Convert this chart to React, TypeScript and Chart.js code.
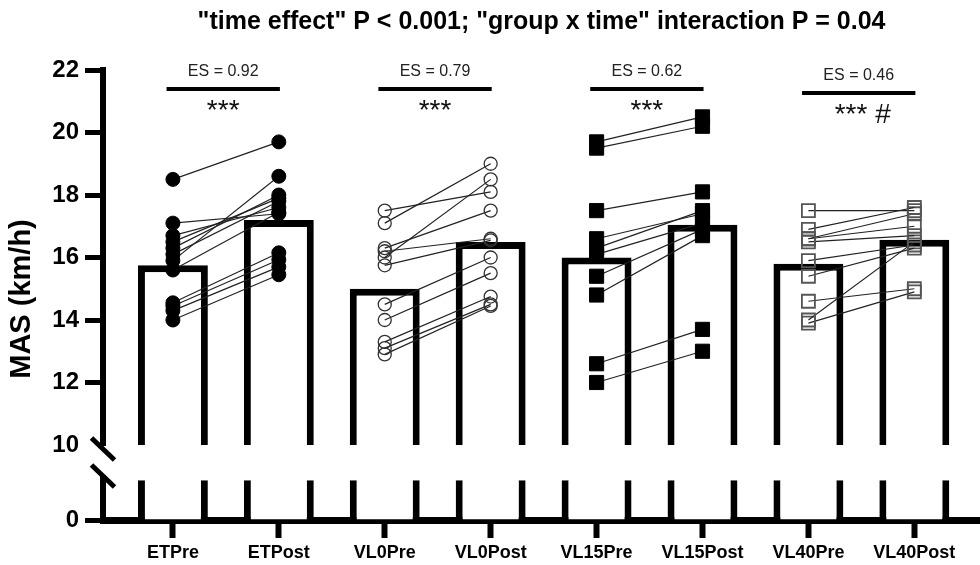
import React, { useEffect, useRef } from 'react';
import { Chart, registerables } from 'chart.js';

Chart.register(...registerables);

const TITLE = '"time effect" P < 0.001; "group x time" interaction P = 0.04';
const Y_TITLE = 'MAS (km/h)';

const categories = ['ETPre', 'ETPost', 'VL0Pre', 'VL0Post', 'VL15Pre', 'VL15Post', 'VL40Pre', 'VL40Post'];
const barValues = [15.75, 17.2, 15.0, 16.5, 16.0, 17.05, 15.8, 16.57];
const upperMin = 10;
const upperMax = 22;
const upperStep = 2;
const lowerTicks = [0];
const lowerMax = 10;
const lowerStub = 5.3;

const etPre = [18.5, 17.1, 16.7, 16.5, 16.3, 16.1, 15.9, 15.6, 14.55, 14.45, 14.3, 14.0];
const etPost = [19.7, 17.4, 17.6, 17.9, 18.0, 17.8, 18.6, 17.45, 16.15, 15.93, 15.7, 15.45];
const vl0Pre = [17.5, 17.1, 16.3, 16.0, 16.2, 15.75, 14.5, 14.0, 13.3, 13.1, 12.9];
const vl0Post = [18.1, 19.0, 17.5, 18.5, 16.6, 16.55, 16.0, 15.5, 14.75, 14.5, 14.45];
const vl15Pre = [19.7, 19.5, 17.5, 16.6, 16.3, 16.1, 15.4, 14.8, 12.6, 12.0];
const vl15Post = [20.5, 20.2, 18.1, 17.4, 17.5, 17.1, 16.9, 16.7, 13.7, 13.0];
const vl40Pre = [17.5, 16.9, 16.6, 16.5, 16.6, 15.9, 15.4, 14.6, 14.0, 13.9];
const vl40Post = [17.5, 17.6, 17.0, 16.7, 17.4, 16.4, 16.3, 15.0, 16.5, 14.9];

const esLabels = ['ES = 0.92', 'ES = 0.79', 'ES = 0.62', 'ES = 0.46'];
const sigLabels = ['***', '***', '***', '*** #'];

const FONT = '"Liberation Sans", Arial, Helvetica, sans-serif';

const groups = [
  { pre: etPre, post: etPost, style: { pointStyle: 'circle', pointRadius: 7, pointBackgroundColor: '#000', pointBorderColor: '#000', pointBorderWidth: 1 } },
  { pre: vl0Pre, post: vl0Post, style: { pointStyle: 'circle', pointRadius: 6.5, pointBackgroundColor: 'rgba(0,0,0,0)', pointBorderColor: '#333', pointBorderWidth: 1.3 } },
  { pre: vl15Pre, post: vl15Post, style: { pointStyle: 'rect', pointRadius: 10, pointBackgroundColor: '#000', pointBorderColor: '#000', pointBorderWidth: 1 } },
  { pre: vl40Pre, post: vl40Post, style: { pointStyle: 'rect', pointRadius: 9.2, pointBackgroundColor: 'rgba(0,0,0,0)', pointBorderColor: '#555', pointBorderWidth: 1.8 } },
];

const annotPlugin = {
  id: 'annot',
  afterDraw(chart: any) {
    const { ctx, chartArea, scales } = chart;
    const xS = scales.x;
    const yT = scales.y;
    const yL = scales.yLow;
    ctx.save();
    ctx.strokeStyle = '#000';
    ctx.lineCap = 'butt';
    // lower axis segment
    ctx.lineWidth = 6;
    ctx.beginPath();
    ctx.moveTo(chartArea.left, yL.getPixelForValue(0));
    ctx.lineTo(chartArea.left, yL.getPixelForValue(6));
    ctx.stroke();
    // break marks
    ctx.lineWidth = 5;
    [4, 31].forEach((dy) => {
      const cy = yT.bottom + dy;
      ctx.beginPath();
      ctx.moveTo(chartArea.left - 11.5, cy - 11);
      ctx.lineTo(chartArea.left + 11.5, cy + 11);
      ctx.stroke();
    });
    // y axis title
    ctx.save();
    ctx.translate(22, (yT.top + yL.bottom) / 2 + 4);
    ctx.rotate(-Math.PI / 2);
    ctx.font = `bold 29px ${FONT}`;
    ctx.fillStyle = '#000';
    ctx.textAlign = 'center';
    ctx.textBaseline = 'middle';
    ctx.fillText(Y_TITLE, 0, 0);
    ctx.restore();
    // ES annotations
    esLabels.forEach((lab, g) => {
      const dy = g === 3 ? 4 : 0;
      const x1 = xS.getPixelForValue(2 * g - 0.06);
      const x2 = xS.getPixelForValue(2 * g + 1.01);
      const cx = (x1 + x2) / 2;
      ctx.lineWidth = 4;
      ctx.beginPath();
      ctx.moveTo(x1, chartArea.top + 19 + dy);
      ctx.lineTo(x2, chartArea.top + 19 + dy);
      ctx.stroke();
      ctx.fillStyle = '#222';
      ctx.textAlign = 'center';
      ctx.textBaseline = 'middle';
      ctx.font = `16px ${FONT}`;
      ctx.fillText(lab, cx, chartArea.top + 2 + dy);
      ctx.fillStyle = '#111';
      ctx.font = `28px ${FONT}`;
      ctx.fillText(sigLabels[g], cx + (g === 3 ? 4 : 0), chartArea.top + 41 + dy);
    });
    ctx.restore();
  },
};

export default function App() {
  const ref = useRef<HTMLCanvasElement | null>(null);
  useEffect(() => {
    if (!ref.current) return;
    Chart.defaults.font.family = FONT;
    const datasets: any[] = [];
    groups.forEach((g, gi) => {
      g.pre.forEach((p, k) => {
        datasets.push({
          type: 'line',
          data: [{ x: 2 * gi, y: p }, { x: 2 * gi + 1, y: g.post[k] }],
          yAxisID: 'y',
          borderColor: '#222',
          borderWidth: 1.2,
          fill: false,
          order: 0,
          ...g.style,
        });
      });
    });
    datasets.push({
      type: 'bar',
      data: categories.map((_, i) => ({ x: i, y: [upperMin, barValues[i]] })),
      yAxisID: 'y',
      backgroundColor: '#fff',
      borderColor: '#000',
      borderWidth: { top: 7, left: 7, right: 7, bottom: 0 },
      borderSkipped: false,
      grouped: false,
      barPercentage: 0.66,
      categoryPercentage: 1,
      order: 5,
    });
    datasets.push({
      type: 'bar',
      data: categories.map((_, i) => ({ x: i, y: lowerStub })),
      yAxisID: 'yLow',
      backgroundColor: '#fff',
      borderColor: '#000',
      borderWidth: { top: 0, left: 7, right: 7, bottom: 0 },
      borderSkipped: false,
      grouped: false,
      barPercentage: 0.66,
      categoryPercentage: 1,
      order: 5,
    });

    const tickFont = { size: 24, weight: 'bold' as const };
    const chart = new Chart(ref.current, {
      type: 'bar',
      data: { datasets },
      plugins: [annotPlugin],
      options: {
        responsive: false,
        animation: false,
        devicePixelRatio: 1,
        layout: { padding: 0, autoPadding: false },
        plugins: {
          legend: { display: false },
          tooltip: { enabled: false },
          title: {
            display: true,
            text: TITLE,
            fullSize: false,
            color: '#000',
            font: { size: 25, weight: 'bold' },
            padding: { top: 7, bottom: 33 },
          },
        },
        scales: {
          x: {
            type: 'linear',
            position: 'bottom',
            offset: false,
            min: -0.66,
            max: 7.62,
            afterBuildTicks: (s: any) => {
              s.ticks = categories.map((_, i) => ({ value: i }));
            },
            afterFit: (s: any) => {
              s.height = 45;
            },
            ticks: {
              callback: (v: any) => categories[v],
              font: { size: 18, weight: 'bold' },
              color: '#000',
              padding: 4,
              autoSkip: false,
              maxRotation: 0,
            },
            grid: { offset: false, drawOnChartArea: false, drawTicks: true, tickLength: 18, tickWidth: 6, tickColor: '#000' },
            border: { display: true, width: 7, color: '#000' },
          },
          y: {
            type: 'linear',
            position: 'left',
            stack: 'v',
            stackWeight: 5,
            weight: 2,
            min: upperMin,
            max: upperMax,
            afterFit: (s: any) => {
              s.width = 103;
            },
            ticks: { stepSize: upperStep, font: tickFont, color: '#000', padding: 6 },
            grid: {
              drawOnChartArea: false,
              drawTicks: true,
              tickLength: 18,
              tickWidth: 5,
              tickColor: (c: any) => (c.tick && c.tick.value === upperMin ? 'rgba(0,0,0,0)' : '#000'),
            },
            border: { display: true, width: 6, color: '#000' },
          },
          yLow: {
            type: 'linear',
            position: 'left',
            stack: 'v',
            stackWeight: 1,
            weight: 1,
            min: 0,
            max: lowerMax,
            afterBuildTicks: (s: any) => {
              s.ticks = lowerTicks.map((v) => ({ value: v }));
            },
            afterFit: (s: any) => {
              s.width = 103;
            },
            ticks: { font: tickFont, color: '#000', padding: 6 },
            grid: { drawOnChartArea: false, drawTicks: true, tickLength: 18, tickWidth: 5, tickColor: '#000' },
            border: { display: false },
          },
        },
      } as any,
    });
    return () => chart.destroy();
  }, []);
  return (
    <div style={{ position: 'fixed', left: 0, top: 0, width: 980, height: 565, background: '#fff' }}>
      <canvas ref={ref} width={980} height={565} style={{ display: 'block' }} />
    </div>
  );
}
